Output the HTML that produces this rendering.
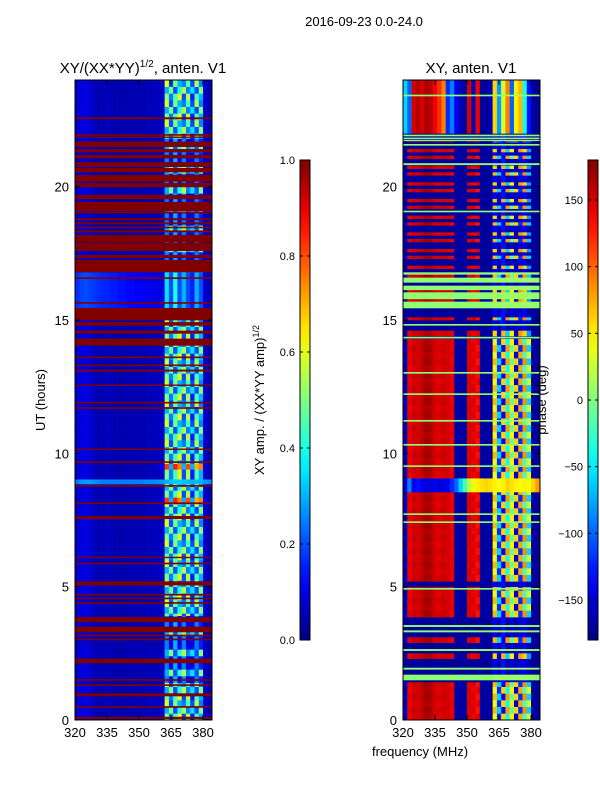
<!DOCTYPE html>
<html><head><meta charset="utf-8">
<style>
html,body{margin:0;padding:0;background:#fff;}
svg{display:block;font-family:"Liberation Sans",sans-serif;}
</style></head>
<body>
<svg id="fig" width="600" height="800" viewBox="0 0 600 800" xmlns="http://www.w3.org/2000/svg">
<rect width="600" height="800" fill="#fff"/>
<defs>
<linearGradient id="jetgrad" x1="0" y1="1" x2="0" y2="0"></linearGradient>
</defs>
<text x="364" y="26" font-size="13" text-anchor="middle">2016-09-23 0.0-24.0</text>
<text x="143" y="73" font-size="15" text-anchor="middle">XY/(XX*YY)<tspan font-size="10" dy="-6">1/2</tspan><tspan dy="6">, anten. V1</tspan></text>
<text x="471" y="73" font-size="15" text-anchor="middle">XY, anten. V1</text>
<g id="leftHeat"></g>
<g id="rightHeat"></g>
<g id="axes"></g>
<text x="45" y="400" font-size="13" text-anchor="middle" transform="rotate(-90 45 400)">UT (hours)</text>
<text x="420" y="756" font-size="13" text-anchor="middle">frequency (MHz)</text>
<text x="264" y="400" font-size="13" text-anchor="middle" transform="rotate(-90 264 400)">XY amp. / (XX*YY amp)<tspan font-size="9" dy="-5">1/2</tspan></text>
<text x="546" y="400" font-size="13" text-anchor="middle" transform="rotate(-90 546 400)">phase (deg)</text>
</svg>
<script>
// ---- data ----
const freqStart = 320, freqStep = 2;
const yTicks = [0,5,10,15,20];
const xTicks = [320,335,350,365,380];
const ampTicks = [0.0,0.2,0.4,0.6,0.8,1.0];
const phaseTicks = [-150,-100,-50,0,50,100,150];
// left amplitude column profiles (32 cols, 320..384 MHz)
const ampQuiet1 = [0.07,0.09,0.1,0.08,0.06,0.05,0.05,0.06,0.05,0.05,0.04,0.05,0.05,0.05,0.05,0.05,0.05,0.06,0.06,0.06,0.07,0.5,0.25,0.45,0.6,0.2,0.55,0.15,0.45,0.3,0.07,0.05];
const ampQuiet2 = [0.07,0.09,0.1,0.08,0.06,0.05,0.05,0.06,0.05,0.05,0.04,0.05,0.05,0.05,0.05,0.05,0.05,0.06,0.06,0.06,0.07,0.3,0.5,0.2,0.4,0.55,0.25,0.35,0.2,0.5,0.07,0.05];
const ampQuiet3 = [0.07,0.09,0.1,0.08,0.06,0.05,0.05,0.06,0.05,0.05,0.04,0.05,0.05,0.05,0.05,0.05,0.05,0.06,0.06,0.06,0.07,0.6,0.2,0.5,0.3,0.25,0.45,0.2,0.55,0.25,0.07,0.05];
const ampLight = [0.17,0.19,0.2,0.19,0.18,0.17,0.16,0.16,0.15,0.15,0.14,0.14,0.13,0.13,0.12,0.12,0.11,0.11,0.1,0.1,0.1,0.35,0.2,0.4,0.2,0.3,0.2,0.15,0.3,0.2,0.08,0.06];
const ampHot = [0.07,0.09,0.1,0.08,0.06,0.05,0.05,0.06,0.05,0.05,0.04,0.05,0.05,0.05,0.05,0.05,0.05,0.06,0.06,0.08,0.12,0.82,0.3,0.85,0.75,0.3,0.8,0.3,0.7,0.75,0.1,0.06];
const ampFlare = [0.25,0.27,0.28,0.28,0.27,0.26,0.25,0.25,0.25,0.25,0.25,0.25,0.25,0.25,0.25,0.25,0.26,0.26,0.26,0.27,0.28,0.3,0.32,0.33,0.33,0.32,0.31,0.3,0.31,0.3,0.28,0.26];
const ampRed = [1,1,1,1,1,1,1,1,1,1,1,1,1,1,1,1,1,1,1,1,1,1,1,1,1,1,1,1,1,1,1,1];
const ampSparse = [0.06,0.08,0.09,0.07,0.05,0.05,0.05,0.05,0.05,0.05,0.04,0.05,0.05,0.05,0.05,0.05,0.05,0.05,0.05,0.05,0.06,0.25,0.1,0.3,0.12,0.25,0.1,0.1,0.25,0.15,0.06,0.05];
// left regions [startHour, endHour, profile]
const ampRegions = [
 [1.4,3.9,'sparse'],[8.1,8.6,'hot'],[9.15,9.6,'hot'],[15.45,16.8,'light'],[16.8,21.8,'sparse'],
 [8.85,9.02,'flare'],[19.5,21.0,'sparse']
];
// red (flagged) bands [start, end]
const ampRedBands = [
 [22.54,22.6],[21.92,21.97],[21.84,21.88],[21.5,21.69],[21.3,21.41],[21.07,21.19],[20.55,20.7],[20.75,20.92],
 [20.2,20.44],[19.99,20.14],[19.54,19.69],[19.09,19.43],[19.01,19.06],[18.75,18.82],[18.6,18.66],[18.45,18.5],
 [18.3,18.36],[17.93,18.19],[17.6,17.9],[17.33,17.44],[16.8,17.25],[16.55,16.6],[15.62,15.67],[15.0,15.45],
 [14.8,14.92],[14.5,14.6],[14.05,14.3],[13.58,13.63],[13.28,13.33],[13.08,13.14],[12.54,12.58],
 [11.88,11.93],[11.68,11.73],[10.14,10.18],[9.65,9.7],[8.76,8.81],[8.11,8.16],[7.55,7.65],
 [6.08,6.12],[5.85,5.9],[5.06,5.2],[4.68,4.73],[4.54,4.59],[4.37,4.42],[3.68,3.86],[3.3,3.5],
 [3.15,3.2],[3.0,3.05],[2.14,2.3],[1.48,1.53],[1.29,1.34],[0.9,1.0],[0.47,0.52],[0.05,0.12]
];
// right phase column profiles (deg)
const phNormal1 = [-170,140,150,150,155,165,160,150,145,150,150,145,-165,-170,-168,150,140,145,-170,-165,-170,40,-120,60,-40,50,-150,75,-20,30,-170,-172];
const phNormal2 = [-150,145,155,150,160,170,165,150,150,155,150,140,-170,-165,-172,145,150,130,-165,-170,-168,70,-60,-140,80,-10,60,-120,85,-60,-168,-170];
const phTop = [-60,-100,150,160,150,165,160,140,120,90,-120,-90,-140,-160,-170,150,-160,140,-170,-170,-160,60,-80,30,90,-100,50,70,-40,-130,-170,-172];
const phBlue = [-172,-170,-170,-168,-170,-172,-170,-168,-170,-170,-172,-170,-170,-172,-170,-170,-172,-170,-170,-172,-170,-140,-160,-130,-165,-150,-160,-150,-140,-165,-172,-172];
const phGreen = [5,5,5,5,5,5,5,5,5,5,5,5,5,5,5,5,5,5,5,5,5,10,10,10,10,10,10,10,10,10,5,5];
const phFlare = [-150,-90,-140,-130,-140,-150,-145,-140,-150,-145,-140,-120,-100,-60,-20,20,40,50,55,60,55,50,45,50,60,55,50,45,50,40,60,80];
const phStripe = [-170,140,150,150,155,165,160,150,145,150,150,145,-165,-170,-168,150,140,145,-170,-165,-170,60,-150,70,-60,50,-160,80,60,-80,-170,-172];
// right regions [start, end, profile]
const phRegions = [
 [0,1.43,'normal'],[1.43,3.86,'blue'],[3.86,5.0,'normal'],[5.0,5.2,'blue'],[5.2,8.55,'normal'],
 [8.55,9.07,'flare'],[9.07,14.3,'normal'],[14.3,15.45,'blue'],[15.45,16.8,'green'],[16.8,21.7,'mixed'],
 [21.7,22.0,'blue'],[22.0,24,'top']
];
// overlay lines [start, end, profile]
const phLines = [
 [1.5,1.7,'green'],[1.9,1.96,'green'],[2.3,2.5,'stripe'],[2.6,2.66,'green'],[2.9,3.1,'stripe'],[3.3,3.36,'green'],[3.5,3.56,'green'],
 [4.9,4.95,'green'],[7.4,7.45,'green'],[7.7,7.75,'green'],[9.5,9.55,'green'],[10.3,10.35,'green'],[11.2,11.25,'green'],
 [12.2,12.25,'green'],[13.0,13.05,'green'],[14.32,14.37,'green'],[14.8,14.85,'green'],[14.4,14.6,'stripe'],[15.0,15.1,'stripe'],
 [15.7,15.78,'stripe'],[16.05,16.12,'stripe'],[16.3,16.4,'blue'],[16.6,16.7,'stripe'],
 [19.05,19.1,'green'],[20.82,20.88,'green'],[21.55,21.6,'green'],
 [21.72,21.76,'green'],[21.8,21.84,'green'],[21.9,21.95,'green'],[23.4,23.45,'green']
];
// ---- helpers ----
const NS='http://www.w3.org/2000/svg';
function jet(t){t=Math.max(0,Math.min(1,t));const c=v=>Math.round(255*Math.max(0,Math.min(1,v)));
 return 'rgb('+c(1.5-Math.abs(4*t-3))+','+c(1.5-Math.abs(4*t-2))+','+c(1.5-Math.abs(4*t-1))+')';}
function yScale(h){return 720-h*640/24;}
function xL(f){return 75+(f-320)*137/64.2;}
function xR(f){return 403+(f-320)*137/64.2;}
const ampProfiles={quiet:[ampQuiet1,ampQuiet2,ampQuiet3],sparse:[ampSparse,ampQuiet2,ampSparse],light:[ampLight],hot:[ampHot,ampQuiet1],flare:[ampFlare],red:[ampRed]};
const phProfiles={normal:[phNormal1,phNormal2],top:[phTop],blue:[phBlue],green:[phGreen],flare:[phFlare],stripe:[phStripe,phNormal2],mixed:[phStripe,phBlue,phBlue,phNormal2,phBlue]};
function drawBand(g,xs,h0,h1,prof,norm,sub,name){
 const step=sub||0.25;
 for(let h=h0;h<h1-1e-9;h+=step){
  const he=Math.min(h1,h+step);
  const arr=prof[Math.round(h/step)%prof.length];
  const y0=yScale(he),y1=yScale(h);
  for(let i=0;i<arr.length;i++){
   const x0=xs(freqStart+i*freqStep),x1=xs(freqStart+(i+1)*freqStep);
   const r=document.createElementNS(NS,'rect');
   r.setAttribute('x',x0.toFixed(2));r.setAttribute('y',y0.toFixed(2));
   r.setAttribute('width',(x1-x0+0.3).toFixed(2));r.setAttribute('height',(y1-y0+0.3).toFixed(2));
   r.setAttribute('fill',jet(norm(arr[i])));
   
   
   g.appendChild(r);
  }
 }
}
const L=document.getElementById('leftHeat'),R=document.getElementById('rightHeat');
const na=v=>v, np=v=>(v+180)/360;
drawBand(L,xL,0,24,ampProfiles.quiet,na,0.25,'amp-cell');
ampRegions.forEach(b=>drawBand(L,xL,b[0],b[1],ampProfiles[b[2]],na,0.25,'amp-cell'));
ampRedBands.forEach(b=>drawBand(L,xL,b[0],b[1],ampProfiles.red,na,1,'amp-flag-cell'));
phRegions.forEach(b=>drawBand(R,xR,b[0],b[1],phProfiles[b[2]],np,b[2]==='mixed'?0.125:0.25,'phase-cell'));
phLines.forEach(b=>drawBand(R,xR,b[0],b[1],phProfiles[b[2]],np,1,'phase-line-cell'));
// gradient
const grad=document.getElementById('jetgrad');
for(let i=0;i<=20;i++){const s=document.createElementNS(NS,'stop');s.setAttribute('offset',(i/20));s.setAttribute('stop-color',jet(i/20));grad.appendChild(s);}
// axes
const A=document.getElementById('axes');
function el(tag,attrs,text){const e=document.createElementNS(NS,tag);for(const k in attrs)e.setAttribute(k,attrs[k]);if(text!==undefined)e.textContent=text;A.appendChild(e);return e;}
function panel(x0,xs,pname){
 const f=el('rect',{x:x0,y:80,width:137,height:640,fill:'none',stroke:'#000','stroke-width':1});
 
 
 yTicks.forEach(t=>{const y=yScale(t);
  el('line',{x1:x0,x2:x0+5,y1:y,y2:y,stroke:'#000'});el('line',{x1:x0+137,x2:x0+132,y1:y,y2:y,stroke:'#000'});
  const tx=el('text',{x:x0-6,y:y+5,'font-size':13,'text-anchor':'end'},String(t));
  
  });
 xTicks.forEach(t=>{const x=xs(t);
  el('line',{x1:x,x2:x,y1:720,y2:715,stroke:'#000'});el('line',{x1:x,x2:x,y1:80,y2:85,stroke:'#000'});
  const tx=el('text',{x:x,y:737,'font-size':13,'text-anchor':'middle'},String(t));
  
  });
}
panel(75,xL,'left');panel(403,xR,'right');
function cbar(x,ticks,lo,hi,fmt,cname){
 const r=el('rect',{x:x,y:160,width:10,height:480,fill:'url(#jetgrad)',stroke:'#000','stroke-width':1});
 
 
 ticks.forEach(t=>{const y=640-(t-lo)/(hi-lo)*480;
  el('line',{x1:x,x2:x+3,y1:y,y2:y,stroke:'#000'});el('line',{x1:x+10,x2:x+7,y1:y,y2:y,stroke:'#000'});
  const tx=el('text',{x:x-5,y:y+4,'font-size':11,'text-anchor':'end'},fmt(t));
  
  });
}
cbar(300,ampTicks,0,1,t=>t.toFixed(1),'colorbar-amp');
cbar(588,phaseTicks,-180,180,t=>(t<0?'\u2212'+(-t):String(t)),'colorbar-phase');
</script>
</body></html>
